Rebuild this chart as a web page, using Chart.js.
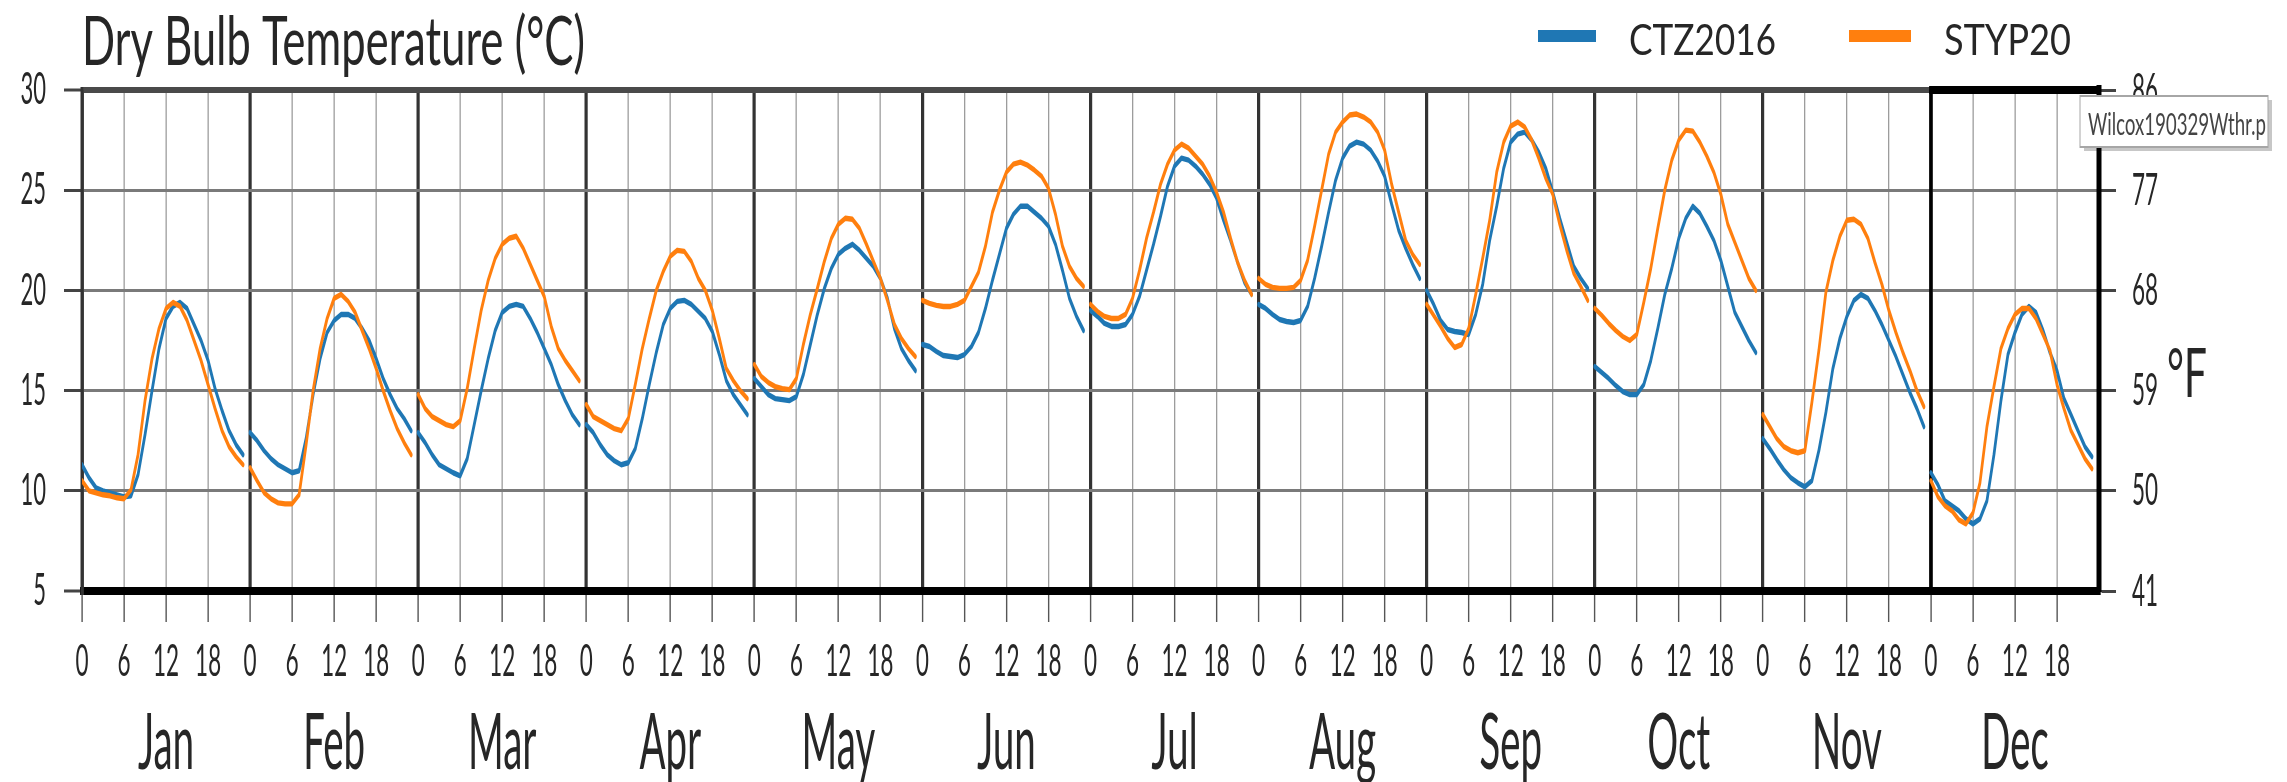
<!DOCTYPE html>
<html>
<head>
<meta charset="utf-8">
<script src="https://cdn.jsdelivr.net/npm/chart.js@4.4.1/dist/chart.umd.min.js"></script>
<style>
  html, body { margin: 0; padding: 0; background: #fff; overflow: hidden; }
  #c { display: block; }
</style>
</head>
<body>
<canvas id="c"></canvas>
<script>
// ---- data -----------------------------------------------------------------
const MONTHS = ['Jan', 'Feb', 'Mar', 'Apr', 'May', 'Jun', 'Jul', 'Aug', 'Sep', 'Oct', 'Nov', 'Dec'];
const HOUR_LABELS = [0, 6, 12, 18];
const CELSIUS_TICKS = [5, 10, 15, 20, 25, 30];
const FAHRENHEIT_TICKS = [41, 50, 59, 68, 77, 86];
const SERIES_NAMES = ['CTZ2016', 'STYP20'];

// average hourly dry bulb temperature (°C), hour 0..23 for each month
const CTZ2016 = [
  [11.3, 10.65, 10.15, 10.0, 9.9, 9.8, 9.7, 9.75, 10.8, 12.8, 15.0, 17.1, 18.6, 19.2, 19.4, 19.1, 18.3, 17.5, 16.5, 15.1, 14.0, 13.0, 12.3, 11.8],
  [12.9, 12.5, 12.0, 11.6, 11.3, 11.1, 10.9, 11.0, 12.6, 14.8, 16.6, 17.9, 18.5, 18.8, 18.8, 18.6, 18.1, 17.5, 16.6, 15.6, 14.8, 14.1, 13.6, 13.0],
  [12.9, 12.4, 11.8, 11.3, 11.1, 10.9, 10.75, 11.6, 13.3, 15.0, 16.6, 18.0, 18.9, 19.2, 19.3, 19.2, 18.6, 17.9, 17.1, 16.3, 15.3, 14.5, 13.8, 13.3],
  [13.3, 12.9, 12.3, 11.8, 11.5, 11.3, 11.4, 12.1, 13.6, 15.3, 16.9, 18.3, 19.1, 19.45, 19.5, 19.3, 18.95, 18.6, 17.95, 16.8, 15.5, 14.8, 14.3, 13.8],
  [15.6, 15.2, 14.8, 14.6, 14.55, 14.5, 14.7, 15.8, 17.3, 18.8, 20.1, 21.1, 21.8, 22.1, 22.3, 22.0, 21.6, 21.2, 20.6, 19.6, 18.1, 17.1, 16.5, 16.0],
  [17.3, 17.2, 16.95, 16.75, 16.7, 16.65, 16.8, 17.2, 17.9, 19.1, 20.5, 21.8, 23.1, 23.8, 24.2, 24.2, 23.9, 23.6, 23.2, 22.3, 21.0, 19.6, 18.7, 18.0],
  [19.0, 18.7, 18.35, 18.2, 18.2, 18.3, 18.8, 19.7, 21.0, 22.3, 23.7, 25.2, 26.2, 26.6, 26.5, 26.2, 25.8, 25.3, 24.6, 23.5, 22.5, 21.4, 20.4, 19.8],
  [19.3, 19.1, 18.8, 18.55, 18.45, 18.4, 18.5, 19.2, 20.6, 22.2, 23.9, 25.5, 26.6, 27.2, 27.4, 27.3, 27.0, 26.45, 25.7, 24.3, 23.0, 22.1, 21.3, 20.6],
  [20.0, 19.3, 18.5, 18.05, 17.95, 17.9, 17.8, 18.8, 20.3, 22.5, 24.2, 26.1, 27.4, 27.8, 27.9, 27.5, 26.9, 26.1, 24.9, 23.6, 22.4, 21.2, 20.6, 20.1],
  [16.2, 15.9, 15.6, 15.25, 14.95, 14.8, 14.8, 15.3, 16.5, 18.1, 19.8, 21.1, 22.6, 23.6, 24.2, 23.85, 23.2, 22.5, 21.5, 20.2, 18.9, 18.2, 17.5, 16.9],
  [12.6, 12.1, 11.55, 11.05, 10.65, 10.4, 10.2, 10.5, 12.0, 13.9, 16.1, 17.6, 18.7, 19.5, 19.8, 19.6, 19.0, 18.3, 17.5, 16.7, 15.8, 14.9, 14.1, 13.2],
  [10.9, 10.3, 9.5, 9.25, 9.0, 8.6, 8.35, 8.6, 9.5, 11.8, 14.5, 16.8, 17.9, 18.8, 19.2, 18.9, 18.0, 16.9, 16.0, 14.6, 13.8, 13.0, 12.2, 11.7]
];
const STYP20 = [
  [10.5, 10.0, 9.9, 9.8, 9.75, 9.65, 9.6, 10.05, 11.8, 14.5, 16.6, 18.1, 19.1, 19.4, 19.2, 18.5, 17.5, 16.5, 15.3, 14.1, 13.0, 12.2, 11.7, 11.3],
  [11.15, 10.5, 9.9, 9.6, 9.4, 9.35, 9.35, 9.8, 12.3, 15.0, 17.1, 18.6, 19.6, 19.8, 19.45, 18.9, 18.0, 17.1, 16.1, 15.0, 14.0, 13.1, 12.4, 11.8],
  [14.8, 14.1, 13.7, 13.5, 13.3, 13.2, 13.5, 15.1, 17.1, 19.0, 20.5, 21.6, 22.3, 22.6, 22.7, 22.1, 21.3, 20.5, 19.7, 18.2, 17.1, 16.5, 16.0, 15.5],
  [14.3, 13.7, 13.5, 13.3, 13.1, 13.0, 13.6, 15.3, 17.1, 18.6, 20.0, 20.95, 21.7, 22.0, 21.95, 21.45, 20.6, 20.0, 19.0, 17.6, 16.1, 15.5, 15.0, 14.6],
  [16.3, 15.7, 15.4, 15.2, 15.1, 15.05, 15.6, 17.3, 18.8, 20.1, 21.45, 22.6, 23.3, 23.6, 23.55, 23.1, 22.3, 21.45, 20.6, 19.5, 18.3, 17.6, 17.1, 16.7],
  [19.5, 19.35, 19.25, 19.2, 19.2, 19.3, 19.5, 20.2, 20.9, 22.2, 23.9, 25.0, 25.9, 26.3, 26.4, 26.25, 26.0, 25.7, 25.1, 23.8, 22.2, 21.2, 20.6, 20.2],
  [19.3, 18.95, 18.7, 18.6, 18.6, 18.8, 19.6, 21.0, 22.6, 23.9, 25.3, 26.3, 27.0, 27.3, 27.1, 26.7, 26.3, 25.7, 24.9, 23.9, 22.6, 21.4, 20.5, 19.8],
  [20.6, 20.3, 20.15, 20.1, 20.1, 20.15, 20.5, 21.5, 23.2, 25.0, 26.8, 27.9, 28.4, 28.75, 28.8, 28.65, 28.4, 27.9, 27.0, 25.3, 23.9, 22.5, 21.8, 21.3],
  [19.3, 18.75, 18.2, 17.6, 17.15, 17.3, 18.1, 19.8, 21.6, 23.5, 25.9, 27.4, 28.2, 28.4, 28.15, 27.5, 26.6, 25.6, 24.8, 23.3, 22.0, 20.85, 20.2, 19.5],
  [19.1, 18.75, 18.35, 18.0, 17.7, 17.5, 17.8, 19.4, 21.1, 23.1, 25.0, 26.5, 27.5, 28.0, 27.95, 27.4, 26.7, 25.9, 24.8, 23.3, 22.4, 21.5, 20.6, 20.0],
  [13.8, 13.2, 12.6, 12.2, 12.0, 11.9, 12.0, 14.4, 17.0, 19.9, 21.5, 22.7, 23.5, 23.55, 23.3, 22.6, 21.4, 20.3, 19.0, 17.9, 16.9, 16.0, 15.0, 14.2],
  [10.5, 9.7, 9.25, 9.0, 8.55, 8.35, 8.9, 10.4, 13.2, 15.2, 17.1, 18.1, 18.8, 19.1, 19.1, 18.6, 17.8, 17.0, 15.3, 14.1, 13.0, 12.3, 11.6, 11.1]
];

// ---- page geometry --------------------------------------------------------
const PAGE_W = 2287, PAGE_H = 782;
const SQUEEZE = 0.5;                          // the drawing is narrowed horizontally by this factor
const CANVAS_W = Math.round(PAGE_W / SQUEEZE);
const px = v => v / SQUEEZE;                  // on-page x distance -> canvas units
const FONT = 'Lato, "Open Sans", "DejaVu Sans", sans-serif';
const TEXT = '#262626';
const HOURS_PER_MONTH = 24;
const TOTAL_HOURS = MONTHS.length * HOURS_PER_MONTH;
const BLUE = '#1f77b4', ORANGE = '#ff7f0e';

// one series: hourly points per month, with a break between months
function monthlySeries(rows) {
  const pts = [];
  rows.forEach((row, m) => {
    row.forEach((t, h) => pts.push({ x: m * HOURS_PER_MONTH + h, y: t }));
    pts.push({ x: m * HOURS_PER_MONTH + 23.5, y: null });
  });
  return pts;
}

const hourTickValues = [];
MONTHS.forEach((_, m) => HOUR_LABELS.forEach(h => hourTickValues.push(m * HOURS_PER_MONTH + h)));

const canvas = document.getElementById('c');
canvas.width = CANVAS_W;
canvas.height = PAGE_H;
canvas.style.width = PAGE_W + 'px';
canvas.style.height = PAGE_H + 'px';

// text squeezed/stretched to an exact on-page width
function fitText(ctx, text, x, baseline, size, pageWidth, color) {
  ctx.save();
  ctx.font = `${size}px ${FONT}`;
  const w = ctx.measureText(text).width;
  ctx.translate(x, baseline);
  ctx.scale(px(pageWidth) / w, 1);
  ctx.fillStyle = color;
  ctx.textAlign = 'left';
  ctx.textBaseline = 'alphabetic';
  ctx.fillText(text, 0, 0);
  ctx.restore();
}

// keep the vertical axes from reserving room above/below the plot for their labels
function noVerticalOverhang(s) {
  s.paddingTop = 0;
  s.paddingBottom = 0;
}

const figureDecor = {
  id: 'figureDecor',
  beforeDatasetsDraw(chart) {
    // heavy frame around the December panel
    const { ctx, scales: { x, y } } = chart;
    const xl = x.getPixelForValue(11 * HOURS_PER_MONTH);
    const xr = x.getPixelForValue(TOTAL_HOURS);
    const yt = y.getPixelForValue(30), yb = y.getPixelForValue(5);
    ctx.save();
    ctx.strokeStyle = '#000';
    ctx.lineWidth = px(3.6);
    ctx.beginPath(); ctx.moveTo(xl, yt); ctx.lineTo(xl, yb); ctx.stroke();
    ctx.lineWidth = 8;
    ctx.beginPath(); ctx.moveTo(xl - px(1.8), yt); ctx.lineTo(xr + px(2.5), yt); ctx.stroke();
    ctx.restore();
  },
  afterDraw(chart) {
    const { ctx } = chart;
    // heading
    fitText(ctx, 'Dry Bulb Temperature (°C)', px(82), 65, 68, 503, TEXT);
    // legend
    const ds = chart.data.datasets;
    const items = [
      { sw: 1538, swW: 58, tx: 1629, tw: 147 },
      { sw: 1849, swW: 62, tx: 1944, tw: 127 }
    ];
    items.forEach((it, i) => {
      ctx.save();
      ctx.fillStyle = ds[i].borderColor;
      ctx.fillRect(px(it.sw), 30, px(it.swW), 12);
      ctx.restore();
      fitText(ctx, ds[i].label, px(it.tx), 55, 42, it.tw, TEXT);
    });
    // Fahrenheit unit next to the right axis
    fitText(ctx, '°F', px(2167), 397, 68, 40, TEXT);
    // file-name hover box in the corner
    ctx.save();
    ctx.fillStyle = 'rgba(0,0,0,0.22)';
    ctx.fillRect(px(2084), 100, px(2272 - 2084), 51);
    ctx.fillStyle = '#fff';
    ctx.fillRect(px(2080), 96, px(2268 - 2080), 51);
    ctx.strokeStyle = '#a6a6a6';
    ctx.lineWidth = 2;
    ctx.strokeRect(px(2080), 96, px(2268 - 2080), 51);
    ctx.restore();
    fitText(ctx, 'Wilcox190329Wthr.p', px(2088), 135, 31, 178, '#444');
  }
};

new Chart(canvas, {
  type: 'line',
  data: {
    datasets: [
      { label: SERIES_NAMES[0], data: monthlySeries(CTZ2016), borderColor: BLUE, backgroundColor: BLUE, order: 1 },
      { label: SERIES_NAMES[1], data: monthlySeries(STYP20), borderColor: ORANGE, backgroundColor: ORANGE, order: 0 }
    ]
  },
  options: {
    responsive: false,
    animation: false,
    devicePixelRatio: 1,
    spanGaps: false,
    layout: { padding: { top: 90, left: 0, right: 0, bottom: 0 } },
    elements: {
      point: { radius: 0, hoverRadius: 0 },
      line: { tension: 0, borderWidth: 5.4, borderJoinStyle: 'round', borderCapStyle: 'round', fill: false }
    },
    plugins: {
      legend: { display: false },
      title: { display: false },
      tooltip: { enabled: false }
    },
    events: [],
    scales: {
      x: {
        type: 'linear', position: 'bottom', weight: 0,
        min: 0, max: TOTAL_HOURS,
        afterBuildTicks: s => { s.ticks = hourTickValues.map(v => ({ value: v })); },
        afterFit: s => { s.height = 99; },
        ticks: {
          autoSkip: false, maxRotation: 0, minRotation: 0, padding: 12,
          color: TEXT, font: { family: FONT, size: 45 },
          callback: v => String(v % HOURS_PER_MONTH)
        },
        grid: {
          color: c => (c.tick && c.tick.value % HOURS_PER_MONTH === 0) ? '#333' : '#9c9c9c',
          lineWidth: c => (c.tick && c.tick.value % HOURS_PER_MONTH === 0) ? px(3.2) : px(1.3),
          tickLength: 31, tickColor: '#555', tickWidth: px(1.4)
        },
        border: { display: true, color: '#000', width: 8 }
      },
      months: {
        type: 'linear', position: 'bottom', weight: 1,
        min: 0, max: TOTAL_HOURS,
        afterBuildTicks: s => { s.ticks = MONTHS.map((_, i) => ({ value: i * HOURS_PER_MONTH + 12 })); },
        afterFit: s => { s.height = 92; },
        ticks: {
          autoSkip: false, maxRotation: 0, minRotation: 0, padding: 8,
          color: TEXT, font: { family: FONT, size: 77 },
          callback: (v, i) => MONTHS[i]
        },
        grid: { display: false, drawTicks: false },
        border: { display: false }
      },
      y: {
        type: 'linear', position: 'left',
        min: 5, max: 30,
        afterBuildTicks: s => { s.ticks = CELSIUS_TICKS.map(v => ({ value: v })); },
        afterFit: s => { s.width = px(82); noVerticalOverhang(s); },
        ticks: { padding: px(18), color: TEXT, font: { family: FONT, size: 44 } },
        grid: {
          color: c => c.tick.value === 30 ? '#4a4a4a' : (c.tick.value === 5 ? '#000' : '#7a7a7a'),
          lineWidth: c => c.tick.value === 30 ? 6 : (c.tick.value === 5 ? 8 : 3),
          tickLength: px(18), tickColor: '#444', tickWidth: 3
        },
        border: { display: true, color: '#333', width: px(3.4) }
      },
      yF: {
        type: 'linear', position: 'right',
        min: 41, max: 86,
        afterBuildTicks: s => { s.ticks = FAHRENHEIT_TICKS.map(v => ({ value: v })); },
        afterFit: s => { s.width = CANVAS_W - px(2099); noVerticalOverhang(s); },
        ticks: { padding: px(16), color: TEXT, font: { family: FONT, size: 45 } },
        grid: { drawOnChartArea: false, tickLength: px(17), tickColor: '#444', tickWidth: 3 },
        border: { display: true, color: '#000', width: px(5) }
      }
    }
  },
  plugins: [figureDecor]
});
</script>
</body>
</html>
